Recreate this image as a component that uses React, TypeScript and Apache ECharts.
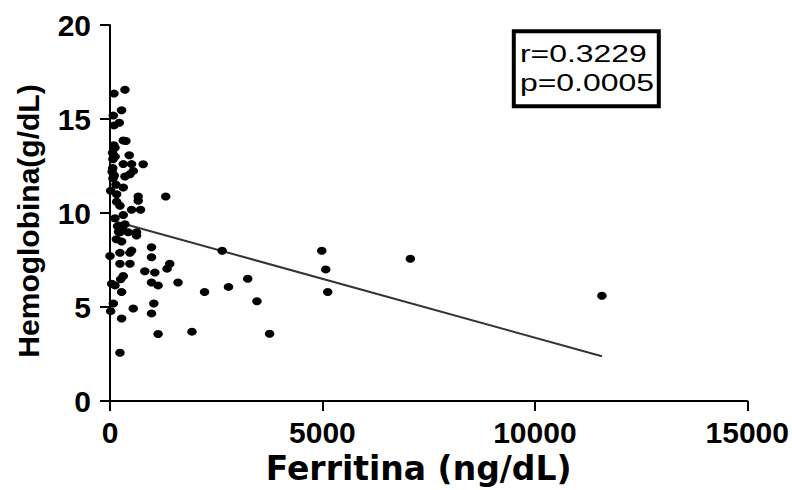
import React, { useEffect, useRef } from "react";
import * as echarts from "echarts";

// Ferritina (ng/dL) values, paired with hemoglobina (g/dL)
const ferritina = [
  352, 94, 273, 78, 218, 94, 312, 375, 117, 60, 453, 70, 781, 508, 312, 65, 50, 547, 469, 352,
  70, 312, 16, 156, 664, 664, 1312, 156, 234, 508, 719, 312, 117, 234, 430, 625, 625, 273, 977, 0,
  234, 469, 508, 977, 234, 469, 1406, 1343, 820, 1055, 312, 250, 977, 1132, 1601, 39, 117, 273, 2226, 78,
  547, 16, 1031, 977, 273, 1132, 1929, 234, 2640, 4984, 7070, 5078, 5125, 2789, 3242, 3459, 3757, 11578,
  100, 120, 90, 140, 180, 200, 150, 300, 350,
];
const hemoglobina = [
  16.56, 16.35, 15.47, 15.18, 14.8, 14.66, 13.86, 13.83, 13.47, 13.2, 13.07, 12.86, 12.59, 12.6, 12.6, 12.4, 12.2, 12.24, 12.06, 11.94,
  11.84, 11.36, 11.18, 11.0, 10.88, 10.65, 10.88, 10.6, 10.39, 10.17, 10.17, 9.89, 9.72, 8.98, 8.98, 8.98, 8.8, 8.48, 8.18, 7.71,
  7.88, 7.88, 8.0, 7.65, 7.3, 7.3, 7.3, 7.04, 6.9, 6.83, 6.65, 6.47, 6.3, 6.15, 6.3, 6.24, 6.15, 5.8, 5.8, 5.19,
  4.92, 4.78, 5.19, 4.66, 4.39, 3.56, 3.69, 2.57, 7.99, 7.99, 7.57, 7.0, 5.8, 6.07, 6.5, 5.31, 3.58, 5.6,
  12.0, 13.0, 13.6, 11.5, 9.3, 9.0, 8.6, 9.1, 9.4,
];

// Linear regression line endpoints
const fitX = [0, 11578];
const fitY = [9.63, 2.38];

// Axis ticks
const xTicks = [0, 5000, 10000, 15000];
const yTicks = [0, 5, 10, 15, 20];

const statsLines = ["r=0.3229", "p=0.0005"];

export default function App() {
  const ref = useRef<HTMLDivElement>(null);

  useEffect(() => {
    if (!ref.current) return;
    const chart = echarts.init(ref.current, null, { renderer: "svg" });
    const points = ferritina.map((x, i) => [x, hemoglobina[i]]);
    const fit = fitX.map((x, i) => [x, fitY[i]]);

    const axisCommon = {
      axisLine: { show: true, onZero: false, lineStyle: { color: "#000", width: 2 } },
      axisTick: { show: true, inside: false, length: 10, lineStyle: { color: "#000", width: 2 } },
      splitLine: { show: false },
    };

    chart.setOption({
      animation: false,
      backgroundColor: "#fff",
      grid: { left: 110, right: 42, top: 25, bottom: 87, containLabel: false },
      xAxis: {
        type: "value",
        min: xTicks[0],
        max: xTicks[xTicks.length - 1],
        interval: xTicks[1] - xTicks[0],
        ...axisCommon,
        axisLabel: {
          color: "#000",
          fontFamily: "Liberation Sans",
          fontWeight: "bold",
          fontSize: 30,
          margin: 16,
          formatter: (v: number) => String(v),
        },
        name: "Ferritina (ng/dL)",
        nameLocation: "middle",
        nameGap: 51,
        nameTextStyle: {
          color: "#000",
          fontFamily: "DejaVu Sans",
          fontWeight: "bold",
          fontSize: 33,
          padding: [0, 20, 0, 0],
        },
      },
      yAxis: {
        type: "value",
        min: yTicks[0],
        max: yTicks[yTicks.length - 1],
        interval: yTicks[1] - yTicks[0],
        ...axisCommon,
        axisLabel: {
          color: "#000",
          fontFamily: "Liberation Sans",
          fontWeight: "bold",
          fontSize: 30,
          margin: 19,
          formatter: (v: number) => String(v),
        },
        name: "Hemoglobina(g/dL)",
        nameLocation: "middle",
        nameGap: 67,
        nameRotate: 90,
        nameTextStyle: {
          color: "#000",
          fontFamily: "Liberation Sans",
          fontWeight: "bold",
          fontSize: 30,
          padding: [0, 16, 0, 0],
        },
      },
      series: [
        {
          type: "line",
          data: fit,
          showSymbol: false,
          symbol: "none",
          lineStyle: { color: "#333", width: 2 },
          z: 1,
        },
        {
          type: "scatter",
          data: points,
          symbol: "circle",
          symbolSize: [9.5, 8],
          itemStyle: { color: "#000", opacity: 1 },
          z: 2,
        },
      ],
      graphic: [
        {
          type: "rect",
          shape: { x: 513.8, y: 31.3, width: 145, height: 75 },
          style: { fill: "#fff", stroke: "#000", lineWidth: 4 },
        },
        {
          type: "text",
          x: 520,
          y: 54,
          scaleX: 1.33,
          style: {
            text: statsLines[0],
            font: '24px "Liberation Sans"',
            fill: "#000",
            verticalAlign: "middle",
          },
        },
        {
          type: "text",
          x: 520,
          y: 83,
          scaleX: 1.33,
          style: {
            text: statsLines[1],
            font: '24px "Liberation Sans"',
            fill: "#000",
            verticalAlign: "middle",
          },
        },
      ],
    });

    return () => chart.dispose();
  }, []);

  return (
    <div
      ref={ref}
      style={{ position: "absolute", left: 0, top: 0, width: 792, height: 490 }}
    />
  );
}
